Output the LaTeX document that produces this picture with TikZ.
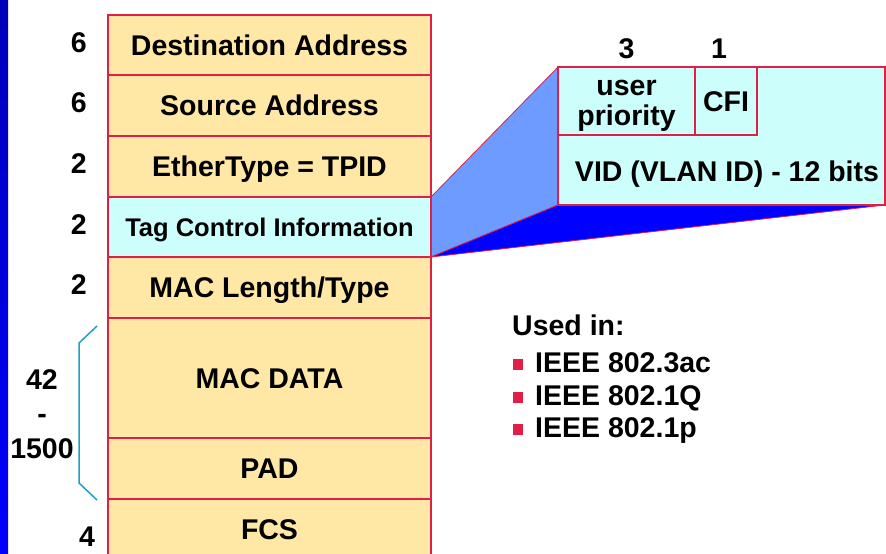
\documentclass[tikz,border=0pt]{standalone}
\usepackage{fontspec}
\setmainfont{Liberation Sans}
\usetikzlibrary{positioning,backgrounds}

\definecolor{fieldfill}{RGB}{255,231,166}
\definecolor{tagfill}{RGB}{204,255,252}
\definecolor{edgered}{RGB}{225,30,70}
\definecolor{fanblue}{RGB}{110,155,255}
\definecolor{bracecol}{RGB}{30,160,195}
\newcommand{\sqbullet}{\textcolor{edgered}{\raisebox{2pt}{\rule{10pt}{11pt}}}\hspace{12pt}}

\begin{document}
\begin{tikzpicture}[x=1pt,y=-1pt,
                    node distance=0pt,
                    font=\fontsize{28.5}{34}\selectfont\bfseries,
                    field node/.style={rectangle,draw=edgered,fill=fieldfill,line width=2pt,
                                       minimum width=323pt,minimum height=61pt,
                                       inner sep=0pt,outer sep=0pt,
                                       text height=20.5pt,text depth=0pt},
                    tag node/.style={field node,fill=tagfill},
                    size node/.style={inner sep=0pt,text height=20.5pt,text depth=0pt},
                    plain node/.style={inner sep=0pt}]

  \useasboundingbox (0,0) rectangle (886,554);
  \shade[top color={rgb,255:red,0;green,0;blue,185},bottom color={rgb,255:red,0;green,0;blue,255}]
    (0,0) rectangle (8,554);

  % frame fields
  \node[field node,minimum height=60pt,anchor=north west] (dst) at (108,15) {Destination Address};
  \node[field node] (src)  [below=of dst]  {Source Address};
  \node[field node] (tpid) [below=of src]  {EtherType = TPID};
  \node[tag node,minimum height=60pt,font=\fontsize{25.5}{30}\selectfont\bfseries,text height=18.3pt] (tci) [below=of tpid] {Tag Control Information};
  \node[field node] (len)  [below=of tci]  {MAC Length/Type};
  \node[field node,minimum height=120pt] (data) [below=of len] {MAC DATA};
  \node[field node] (pad)  [below=of data] {PAD};
  \node[field node] (fcs)  [below=of pad]  {FCS};

  % sizes in bytes
  \node[size node,yshift=3pt] (ndst)  [left=21pt of dst]  {6};
  \node[size node,yshift=3pt] (nsrc)  [left=21pt of src]  {6};
  \node[size node,yshift=3pt] (ntpid) [left=21pt of tpid] {2};
  \node[size node,yshift=3pt] (ntci)  [left=21pt of tci]  {2};
  \node[size node,yshift=3pt] (nlen)  [left=21pt of len]  {2};
  \node[plain node,align=center,font=\fontsize{28.5}{34.5}\selectfont\bfseries] (ndata) at (42,414) {42\\-\\1500};
  \node[size node] (nfcs) at (87,536) {4};
  \draw[bracecol,line width=1.5pt] (97,326) -- (79,343) -- (79,483) -- (97,500);

  % tag control information, zoomed
  \node[tag node,line width=1.5pt,minimum width=327pt,minimum height=138pt,anchor=north west] (vlan) at (558,67) {};
  \node[tag node,line width=1.5pt,minimum width=137pt,minimum height=68pt,anchor=north west,align=center,
        font=\fontsize{28.5}{30}\selectfont\bfseries,text height=54pt,text depth=6pt] (upr) at (vlan.north west) {user\\priority};
  \node[tag node,line width=1.5pt,minimum width=62pt,minimum height=68pt] (cfi) [right=of upr] {CFI};
  \node[size node] (vid) at (727,171) {VID (VLAN ID) - 12 bits};
  \node[size node] (n3) [above=8pt of upr] {3};
  \node[size node,xshift=-7pt] (n1) [above=8pt of cfi] {1};

  \begin{scope}[on background layer]
    \filldraw[fill=fanblue,draw=edgered,line width=0.8pt]
      (tci.north east) -- (vlan.north west) -- (vlan.south west) -- (tci.south east) -- cycle;
    \filldraw[fill=blue,draw=edgered,line width=0.8pt]
      (vlan.south west) -- (vlan.south east) -- (tci.south east) -- cycle;
  \end{scope}

  % where it is used
  \node[plain node,anchor=base west] (used) at (512,335) {Used in:};
  \node[plain node,anchor=base west] (ac) at (513,372) {\sqbullet IEEE 802.3ac};
  \node[plain node,anchor=base west] (q)  at (513,405) {\sqbullet IEEE 802.1Q};
  \node[plain node,anchor=base west] (p)  at (513,437) {\sqbullet IEEE 802.1p};
\end{tikzpicture}
\end{document}
